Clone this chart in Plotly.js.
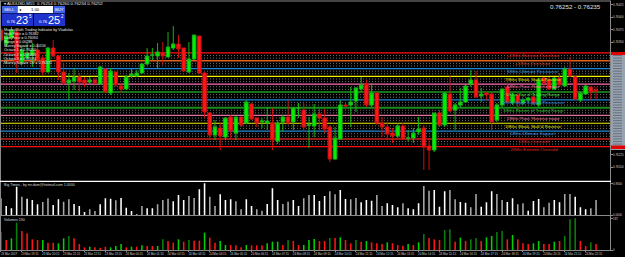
<!DOCTYPE html>
<html><head><meta charset="utf-8">
<script src="https://cdn.plot.ly/plotly-3.0.1.min.js"></script>
<style>html,body{margin:0;padding:0;background:#000;}#chart{width:625px;height:257px;}</style>
</head><body><div id="chart"></div>
<script>
const symbolTitle = "\u25BE AUDUSD,M15  0.76254 0.76260 0.76234 0.76252";
const bidAsk = "0.76252 - 0.76235";
const indicatorName = "Big Times - by mr.dom@hotmail.com 1.0000";
const volumeName = "Volumes 190";
const infoLines = ["MurreyMath Trading Indicator by Vladislav", "High Price = 0.76382", "Low Price = 0.76094", "Range = 0.00288", "Murrey Square = 0.00156", "Octave 1 = 0.76250", "Octave 2 = 0.76406", "Octave 3 = 0.76094", "Murrey Square Off = 0.76172"];

const open = [0.76374,0.76346,0.76358,0.76370,0.76310,0.76318,0.76324,0.76334,0.76318,0.76290,
 0.76338,0.76322,0.76290,0.76268,0.76272,0.76280,0.76274,0.76270,0.76274,0.76266,
 0.76296,0.76248,0.76290,0.76262,0.76256,0.76282,0.76282,0.76288,0.76306,0.76324,
 0.76322,0.76328,0.76320,0.76338,0.76346,0.76338,0.76290,0.76316,0.76362,0.76288,
 0.76208,0.76164,0.76178,0.76160,0.76200,0.76168,0.76200,0.76188,0.76226,0.76198,
 0.76190,0.76188,0.76188,0.76152,0.76190,0.76200,0.76190,0.76218,0.76214,0.76184,
 0.76182,0.76206,0.76198,0.76180,0.76116,0.76156,0.76224,0.76224,0.76232,0.76256,
 0.76266,0.76224,0.76248,0.76188,0.76180,0.76168,0.76162,0.76182,0.76158,0.76158,
 0.76170,0.76178,0.76142,0.76134,0.76208,0.76184,0.76246,0.76214,0.76224,0.76230,
 0.76266,0.76274,0.76242,0.76248,0.76246,0.76194,0.76224,0.76260,0.76228,0.76244,
 0.76228,0.76234,0.76240,0.76224,0.76278,0.76274,0.76256,0.76278,0.76262,0.76296,
 0.76280,0.76234,0.76246,0.76260,0.76254];
const high = [0.76378,0.76368,0.76380,0.76374,0.76340,0.76348,0.76348,0.76348,0.76324,0.76340,
 0.76354,0.76324,0.76308,0.76288,0.76298,0.76288,0.76280,0.76280,0.76278,0.76302,
 0.76298,0.76298,0.76290,0.76268,0.76284,0.76298,0.76294,0.76308,0.76338,0.76338,
 0.76348,0.76350,0.76370,0.76382,0.76364,0.76338,0.76350,0.76364,0.76362,0.76290,
 0.76210,0.76194,0.76188,0.76200,0.76204,0.76200,0.76200,0.76234,0.76228,0.76200,
 0.76198,0.76220,0.76218,0.76194,0.76204,0.76234,0.76220,0.76228,0.76228,0.76200,
 0.76226,0.76216,0.76216,0.76184,0.76180,0.76234,0.76230,0.76260,0.76260,0.76280,
 0.76274,0.76268,0.76250,0.76200,0.76190,0.76178,0.76188,0.76188,0.76174,0.76178,
 0.76200,0.76184,0.76158,0.76208,0.76214,0.76250,0.76282,0.76228,0.76258,0.76264,
 0.76294,0.76292,0.76258,0.76250,0.76250,0.76228,0.76256,0.76268,0.76248,0.76248,
 0.76238,0.76240,0.76248,0.76278,0.76280,0.76280,0.76280,0.76288,0.76300,0.76320,
 0.76282,0.76250,0.76264,0.76260,0.76260];
const low = [0.76350,0.76340,0.76354,0.76288,0.76304,0.76314,0.76300,0.76314,0.76284,0.76290,
 0.76320,0.76274,0.76264,0.76234,0.76254,0.76250,0.76260,0.76264,0.76266,0.76264,
 0.76248,0.76244,0.76260,0.76248,0.76254,0.76278,0.76280,0.76288,0.76304,0.76314,
 0.76298,0.76304,0.76320,0.76334,0.76318,0.76290,0.76288,0.76314,0.76286,0.76198,
 0.76158,0.76154,0.76134,0.76154,0.76158,0.76154,0.76180,0.76186,0.76194,0.76180,
 0.76178,0.76174,0.76134,0.76146,0.76170,0.76184,0.76174,0.76198,0.76170,0.76138,
 0.76160,0.76174,0.76168,0.76110,0.76114,0.76154,0.76214,0.76180,0.76210,0.76250,
 0.76220,0.76220,0.76184,0.76160,0.76154,0.76148,0.76158,0.76154,0.76150,0.76148,
 0.76164,0.76094,0.76094,0.76130,0.76180,0.76180,0.76210,0.76174,0.76220,0.76228,
 0.76260,0.76238,0.76230,0.76234,0.76174,0.76190,0.76220,0.76228,0.76224,0.76214,
 0.76224,0.76228,0.76224,0.76220,0.76260,0.76254,0.76254,0.76260,0.76260,0.76280,
 0.76234,0.76230,0.76244,0.76234,0.76234];
const close = [0.76354,0.76362,0.76374,0.76310,0.76334,0.76328,0.76334,0.76314,0.76290,0.76338,
 0.76322,0.76290,0.76268,0.76274,0.76280,0.76270,0.76268,0.76274,0.76268,0.76300,
 0.76250,0.76292,0.76264,0.76256,0.76280,0.76286,0.76288,0.76306,0.76322,0.76324,
 0.76330,0.76322,0.76340,0.76346,0.76336,0.76292,0.76316,0.76364,0.76288,0.76210,
 0.76164,0.76180,0.76162,0.76198,0.76172,0.76200,0.76184,0.76230,0.76196,0.76188,
 0.76192,0.76192,0.76154,0.76188,0.76200,0.76188,0.76218,0.76218,0.76180,0.76184,
 0.76206,0.76198,0.76176,0.76116,0.76158,0.76224,0.76222,0.76230,0.76258,0.76264,
 0.76224,0.76248,0.76188,0.76180,0.76166,0.76162,0.76182,0.76156,0.76158,0.76168,
 0.76176,0.76140,0.76134,0.76208,0.76184,0.76248,0.76212,0.76224,0.76230,0.76262,
 0.76274,0.76240,0.76246,0.76244,0.76190,0.76224,0.76256,0.76230,0.76244,0.76230,
 0.76234,0.76238,0.76228,0.76274,0.76268,0.76256,0.76278,0.76264,0.76296,0.76282,
 0.76236,0.76248,0.76262,0.76250,0.76252];

const bigTimes = [0.51,0.28,0.21,0.86,0.56,0.50,0.46,0.33,0.40,0.51,
 0.31,0.48,0.41,0.48,0.34,0.28,0.10,0.18,0.13,0.33,
 0.51,0.50,0.45,0.52,0.23,0.13,0.04,0.28,0.21,0.21,
 0.33,0.46,0.50,0.42,0.61,0.46,0.58,0.52,0.78,0.96,
 0.56,0.28,0.63,0.46,0.48,0.42,0.18,0.48,0.28,0.18,
 0.14,0.34,0.81,0.46,0.34,0.41,0.46,0.28,0.51,0.61,
 0.61,0.43,0.58,0.72,0.63,0.76,0.49,0.48,0.52,0.39,
 0.46,0.44,0.61,0.28,0.36,0.31,0.24,0.36,0.21,0.18,
 0.36,0.88,0.74,0.76,0.26,0.72,0.76,0.48,0.40,0.38,
 0.24,0.64,0.26,0.39,0.72,0.64,0.46,0.40,0.51,0.33,
 0.36,0.14,0.43,0.49,0.24,0.38,0.46,0.39,0.64,0.64,
 0.56,0.24,0.18,0.21,0.46];
const bigTimesShade = [1,0,0,0,1,0,0,0,1,1, 0,0,1,1,0,0,0,1,1,0, 0,0,1,0,0,0,1,1,0,0,
 1,1,1,0,0,0,1,1,0,0, 1,1,0,0,0,1,1,0,0,1, 1,0,0,0,1,1,0,0,1,1,
 0,0,0,1,1,0,0,1,1,0, 0,0,1,1,0,0,0,1,0,0, 0,1,1,0,0,0,1,1,0,0,
 1,1,0,0,0,1,1,0,0,1, 1,0,0,0,1,1,0,0,1,1, 0,0,0,1,1];

const volumes = [110,60,70,164,114,100,64,60,60,44,
 44,40,70,84,70,36,16,20,16,14,
 20,16,24,36,16,20,20,28,24,24,
 24,64,54,44,64,50,60,56,56,104,
 74,44,54,30,30,28,16,30,28,28,
 28,40,50,50,30,60,54,30,30,60,
 66,54,54,72,72,76,60,40,60,50,
 54,46,40,36,46,40,30,26,36,30,
 46,96,72,64,60,120,124,50,74,54,
 64,72,54,76,84,108,114,64,90,64,
 40,36,40,54,36,36,50,54,84,184,
 190,54,24,46,36];
const volumeShade = [2,0,1,2,0,0,0,0,1,0, 0,1,1,2,0,0,0,1,0,0, 0,1,1,1,0,1,0,1,0,0,
 1,2,0,0,1,0,2,0,0,1, 0,0,1,1,0,0,0,1,0,0, 0,1,1,1,0,2,0,0,1,1,
 1,0,0,2,0,1,0,0,2,0, 1,0,0,0,1,0,0,0,1,0, 1,2,0,0,0,2,2,0,1,0,
 2,2,0,1,1,2,2,0,1,0, 0,0,1,1,0,0,1,0,2,2, 2,0,0,2,0];

const timeTickBars = [0,4,8,12,16,20,24,28,32,36,40,44,48,52,56,60,64,68,72,76,80,84,88,92,96,100,104,108,112];
const timeLabels = ["23 Mar 2017","23 Mar 19:15","23 Mar 20:15","23 Mar 21:15","23 Mar 22:15","23 Mar 23:15",
 "24 Mar 00:15","24 Mar 01:15","24 Mar 02:15","24 Mar 03:15","24 Mar 04:15","24 Mar 05:15","24 Mar 06:15",
 "24 Mar 07:15","24 Mar 08:15","24 Mar 09:15","24 Mar 10:15","24 Mar 11:15","24 Mar 12:15","24 Mar 13:15",
 "24 Mar 14:15","24 Mar 15:15","24 Mar 16:15","24 Mar 17:15","24 Mar 18:15","24 Mar 19:15","24 Mar 20:15",
 "24 Mar 21:15","24 Mar 22:15"];

const murreyLevels = [0.76328125,0.763125,0.76296875,0.7628125,0.76265625,0.7625,0.76234375,0.7621875,0.76203125,0.761875,0.76171875,0.7615625,0.76140625];
const murreyNames = ["+2/8ths Extreme Overshoot","+1/8ths Overshoot","8/8ths Ultimate Resistance","7/8ths Weak, Stall & Reverse","6/8ths Pivot, Reverse major","5/8ths Top of Trading Range","4/8ths Major Support/Resistance","3/8ths Bottom of Trading Range","2/8ths Pivot, Reverse major","1/8ths Weak, Stall & Reverse","0/8ths Ultimate Support","-1/8ths Oversold","-2/8ths Extreme Oversold"];
const minorLevels = [0.76322917,0.76317708,0.76307292,0.76302083,0.76291667,0.76286458,0.76276042,0.76270833,
 0.76260417,0.76255208,0.76244792,0.76239583,0.76229167,0.76223958,0.76213542,0.76208333,
 0.76197917,0.76192708,0.76182292,0.76177083,0.76166667,0.76161458,0.76151042,0.76145833];
const priceTicks = [0.76425,0.764,0.76375,0.7635,0.76125,0.761];
const bigTimesTicks = [0,0.94];
const volumeTicks = [0,187];

// ---- styles ----
const lineColors = ["#ff1010","#e0601e","#1e88d8","#f0f000","#ff6eb4","#2ee62e","#1e88d8","#1c8c1c","#e0709c","#f0f000","#1e88d8","#9a1a1a","#ff1010"];
const lineWidths = [1.3,1.3,1.2,1.2,1.2,1.2,1.2,2,1.2,1.2,1.2,2,1.3];
const textColors = ["#e82020","#d83a20","#3aa0e8","#e8e800","#ff78b8","#40e840","#3a98e8","#34c034","#ee80aa","#e8e800","#3a98e8","#d82020","#e82020"];

const PW = 610, PH = 250, TOP = 1;
const px = x => x / PW;
const py = y => (TOP + PH - y) / PH;
const FONT = "Liberation Sans, Arial, sans-serif";
const idx = open.map((_, i) => i);

const traces = [
  {type:'candlestick', x: idx, open, high, low, close, xaxis:'x', yaxis:'y',
   increasing:{line:{color:'#14b414', width:1}, fillcolor:'#00f000'},
   decreasing:{line:{color:'#cc1010', width:1}, fillcolor:'#ff1616'},
   whiskerwidth:0, hoverinfo:'skip'},
  {type:'bar', x: idx, y: bigTimes, xaxis:'x', yaxis:'y2', width:0.3,
   marker:{color: bigTimesShade.map(s => s ? '#a8a8a8' : '#ffffff'), line:{width:0}}, hoverinfo:'skip'},
  {type:'bar', x: idx, y: volumes, xaxis:'x', yaxis:'y3', width:0.3,
   marker:{color: volumeShade.map(s => s === 0 ? '#ff1414' : (s === 1 ? '#00d000' : '#0a7e0a')), line:{width:0}}, hoverinfo:'skip'}
];

const shapes = [];
const annotations = [];
minorLevels.forEach(v => shapes.push({type:'line', xref:'paper', yref:'y', x0:0, x1:1, y0:v, y1:v,
  line:{color:'#6e6e6e', width:1, dash:'1px,2px'}, layer:'below'}));
murreyLevels.forEach((v, k) => {
  shapes.push({type:'line', xref:'paper', yref:'y', x0:0, x1:1, y0:v, y1:v,
    line:{color: lineColors[k], width: lineWidths[k]}, layer:'below'});
  annotations.push({xref:'paper', yref:'y', x: px(533), y: v, yshift:-2.8, text: murreyNames[k], showarrow:false,
    xanchor:'center', yanchor:'middle', font:{size:4.3, color:textColors[k], family:FONT}});
});
shapes.push({type:'rect', xref:'paper', yref:'paper', x0:px(611), x1:px(625), y0:py(150), y1:py(52), fillcolor:'#97a2b0', line:{width:0}});
murreyLevels.concat(minorLevels).forEach(v => shapes.push({type:'line', xref:'paper', yref:'y', x0:px(613), x1:px(622), y0:v, y1:v,
  line:{color:'#5c6470', width:0.8}}));
shapes.push({type:'rect', xref:'paper', yref:'paper', x0:px(611), x1:px(625), y0:py(55), y1:py(52), fillcolor:'#e00000', line:{width:0}});
shapes.push({type:'rect', xref:'paper', yref:'paper', x0:px(611), x1:px(625), y0:py(149), y1:py(145.5), fillcolor:'#e00000', line:{width:0}});
const G = '#8a8a8a';
shapes.push({type:'line', xref:'paper', yref:'paper', x0:px(0.5), x1:px(0.5), y0:py(250), y1:py(1), line:{color:G, width:1}});
shapes.push({type:'line', xref:'paper', yref:'paper', x0:0, x1:px(611), y0:py(1), y1:py(1), line:{color:G, width:1}});
shapes.push({type:'line', xref:'paper', yref:'paper', x0:px(610.5), x1:px(610.5), y0:py(250.5), y1:py(1), line:{color:G, width:1}});
shapes.push({type:'line', xref:'paper', yref:'paper', x0:0, x1:px(611), y0:py(181.3), y1:py(181.3), line:{color:'#ffffff', width:1.3}});
shapes.push({type:'line', xref:'paper', yref:'paper', x0:0, x1:px(611), y0:py(215.5), y1:py(215.5), line:{color:G, width:1}});
shapes.push({type:'line', xref:'paper', yref:'paper', x0:0, x1:px(611), y0:py(250.5), y1:py(250.5), line:{color:G, width:1}});

const box = (x0, y0, x1, y1, c) => shapes.push({type:'rect', xref:'paper', yref:'paper', x0:px(x0), x1:px(x1), y0:py(y1), y1:py(y0), fillcolor:c, line:{width:0}});
box(2, 6, 17, 13, '#3f63e4');
box(17.5, 6, 53, 13, '#ffffff');
box(53.5, 6, 65, 13, '#3f63e4');
box(2, 13.5, 33, 26, '#1f33cc');
box(34, 13.5, 65, 26, '#1f33cc');
const txt = (x, y, t, size, color, anchor) => annotations.push({xref:'paper', yref:'paper', x:px(x), y:py(y), text:t, showarrow:false,
  xanchor: anchor || 'left', yanchor:'middle', font:{size, color, family:FONT}});
txt(9.5, 9.5, 'SELL', 4.2, '#ffffff', 'center');
txt(59, 9.5, 'BUY', 4.2, '#ffffff', 'center');
txt(35, 9.5, '1.00', 4.2, '#000000', 'center');
txt(20, 9.5, '\u25C2', 4, '#000000', 'center');
txt(4.5, 21.5, '0.76', 4.2, '#ffffff');
txt(14, 20, '23', 11, '#ffffff');
txt(27, 16, '5', 4.5, '#ffffff');
txt(36.5, 21.5, '0.76', 4.2, '#ffffff');
txt(46, 20, '25', 11, '#ffffff');
txt(59, 16, '2', 4.5, '#ffffff');
txt(2, 3, symbolTitle, 4.3, '#e8e8e8');
txt(603, 6.5, bidAsk, 6.2, '#e0e0e0', 'right');
infoLines.forEach((t, k) => txt(2, 30 + k * 4.1, t, 3.7, '#e8e8e8'));
txt(2, 185, indicatorName, 3.6, '#d8d8d8');
txt(2, 219.5, volumeName, 3.6, '#d8d8d8');

const axisFont = {size:2.9, color:'#d0d0d0', family:FONT};
const layout = {
  width:625, height:257, margin:{l:0, r:15, t:TOP, b:6, pad:0},
  paper_bgcolor:'#000000', plot_bgcolor:'#000000', showlegend:false,
  boxgap:0.18, boxgroupgap:0.18,
  xaxis:{range:[-0.19, 116.67], anchor:'y3', tickvals: timeTickBars, ticktext: timeLabels,
    tickfont:{size:2.9, color:'#d0d0d0', family:FONT}, ticks:'outside', ticklen:1, tickcolor:'#8a8a8a',
    ticklabelshift:8, showgrid:false, zeroline:false, showline:false, rangeslider:{visible:false}, fixedrange:true},
  yaxis:{domain:[py(178), 1], range:[0.76078, 0.76432], anchor:'x', side:'right', tickvals: priceTicks,
    ticktext: priceTicks.map(v => v.toFixed(5)), tickfont:axisFont, ticks:'outside', ticklen:1.5, tickcolor:'#8a8a8a',
    showgrid:false, zeroline:false, showline:false, fixedrange:true},
  yaxis2:{domain:[py(215.3), py(181.5)], range:[0, 1.014], anchor:'x', side:'right', tickvals: bigTimesTicks,
    ticktext: bigTimesTicks.map(v => v.toFixed(4)), tickfont:axisFont, ticks:'outside', ticklen:1.5, tickcolor:'#8a8a8a',
    showgrid:false, zeroline:false, showline:false, fixedrange:true},
  yaxis3:{domain:[py(250), py(217)], range:[0, 198], anchor:'x', side:'right', tickvals: volumeTicks,
    ticktext: volumeTicks.map(String), tickfont:axisFont, ticks:'outside', ticklen:1.5, tickcolor:'#8a8a8a',
    showgrid:false, zeroline:false, showline:false, fixedrange:true},
  shapes, annotations
};
Plotly.newPlot('chart', traces, layout, {displayModeBar:false, staticPlot:true});
</script></body></html>
